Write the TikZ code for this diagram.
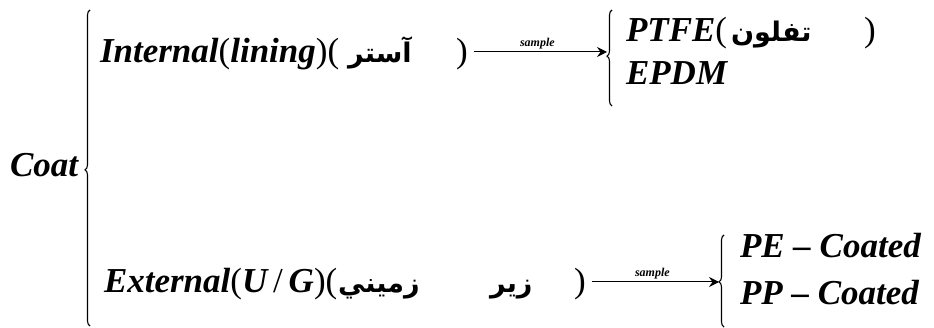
\documentclass[tikz,border=0pt]{standalone}
\usepackage{fontspec}
\setmainfont{Liberation Serif}
\newfontfamily\arabicfont[Script=Arabic]{DejaVu Sans}
\TeXXeTstate=1
\usetikzlibrary{decorations.pathreplacing,arrows.meta}
\tikzset{
  x=1pt,y=1pt,
  lbl/.style={inner sep=0pt,outer sep=0pt,anchor=base west,font=\fontsize{35}{40}\selectfont\bfseries\itshape},
  ar/.style={inner sep=0pt,outer sep=0pt,anchor=base west,font=\fontsize{27}{30}\selectfont\arabicfont\bfseries},
  smp/.style={inner sep=0pt,anchor=south,font=\fontsize{12}{14}\selectfont\bfseries\itshape},
  brc/.style={decorate,decoration={brace,amplitude=5pt,aspect=#1},line width=1.1pt},
  arr/.style={line width=1pt,shorten <=6pt,-{Stealth[length=10pt,width=10pt,inset=3.5pt]}},
}
\newcommand{\up}[1]{{\mdseries\upshape #1}}
\begin{document}
\begin{tikzpicture}
\useasboundingbox (0,0) rectangle (934,328);
% root
\node[lbl] (coat) at (10,151) {Coat};
\draw[brc=0.494] (90,2) -- (90,318);
% upper branch
\node[lbl] (int) at (100,265) {Internal\up{(}lining\up{)(}};
\node[ar] (aster) at (348,265) {\beginR آستر\endR};
\node[lbl] (ic) at (456,265) {\up{)}};
\coordinate (t1) at (607,276);
\draw[brc=0.52] (612,222) -- (612,318);
\draw[arr] (ic.east |- t1) -- node[smp,above=2pt] (s1) {sample} (t1);
\node[lbl] (ptfe) at (626,286) {PTFE\up{(}};
\node[ar] (teflon) at (731,286) {\beginR تفلون\endR};
\node[lbl] (pc) at (864,286) {\up{)}};
\node[lbl] (epdm) at (626,243) {EPDM};
% lower branch
\node[lbl] (ext) at (104,35) {External\up{(}U\,\up{/}\,G\up{)(}};
\node[ar] (zamini) at (338,35) {\beginR زميني\endR};
\node[ar] (zir) at (490,35) {\beginR زير\endR};
\node[lbl] (ec) at (574,35) {\up{)}};
\coordinate (t2) at (719,46);
\draw[brc=0.49] (724,1) -- (724,93);
\draw[arr] (ec.east |- t2) -- node[smp,above=2pt] (s2) {sample} (t2);
\node[lbl] (pe) at (740,70) {PE – Coated};
\node[lbl] (pp) at (740,23) {PP – Coated};
\end{tikzpicture}
\end{document}
